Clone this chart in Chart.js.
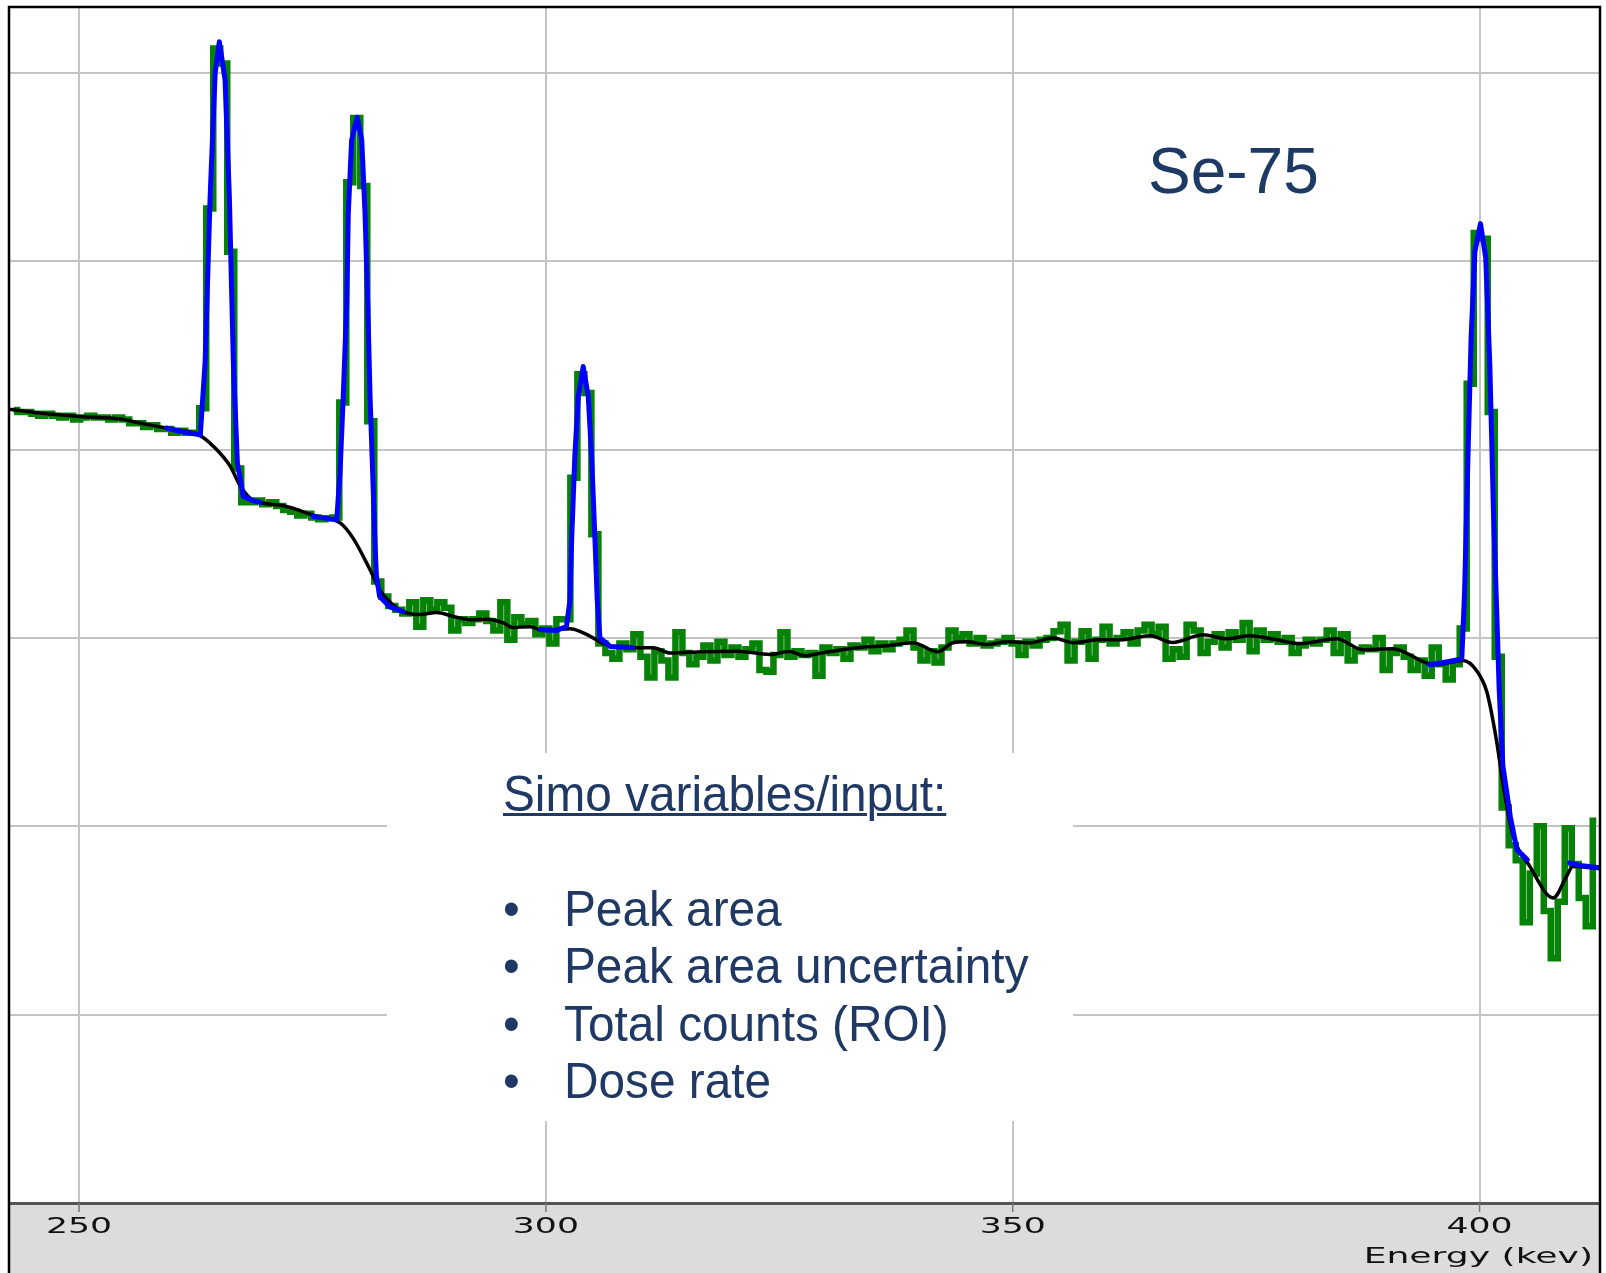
<!DOCTYPE html>
<html>
<head>
<meta charset="utf-8">
<script src="https://cdn.jsdelivr.net/npm/chart.js@4.4.1/dist/chart.umd.min.js"></script>
<style>
  body { margin: 0; background: #fff; }
  #wrap { position: relative; width: 1606px; height: 1273px; background: #fff; }
  #c { position: absolute; left: 0; top: 0; }
  .box { position: absolute; left: 387px; top: 753px; width: 686px; height: 368px; background: #fff; }
  .t {
    position: absolute; white-space: nowrap; color: #1f3864;
    font-family: "Liberation Sans", Arial, sans-serif;
    font-size: 50px; line-height: 57.4px;
    transform-origin: 0 0; transform: scaleX(0.955);
  }
  .u { text-decoration: underline; text-decoration-thickness: 3px; }
</style>
</head>
<body>
<div id="wrap">
  <canvas id="c" width="1606" height="1273"></canvas>
  <div class="box"></div>
  <div class="t" style="left:1148px;top:139px;font-size:64px;line-height:64px;transform:none;color:#1c3a63">Se-75</div>
  <div class="t u" style="left:503px;top:766px">Simo variables/input:</div>
  <div class="t" style="left:503px;top:881px">•</div>
  <div class="t" style="left:564px;top:881px">Peak area</div>
  <div class="t" style="left:503px;top:938px">•</div>
  <div class="t" style="left:564px;top:938px">Peak area uncertainty</div>
  <div class="t" style="left:503px;top:996px">•</div>
  <div class="t" style="left:564px;top:996px">Total counts (ROI)</div>
  <div class="t" style="left:503px;top:1053px">•</div>
  <div class="t" style="left:564px;top:1053px">Dose rate</div>
</div>
<script>
// energy axis (keV) and grid
const xTicks = [250, 300, 350, 400];
const yGrid = [1, 2, 3, 4, 5, 6];

// measured spectrum: channel calibration + counts per channel (arbitrary units)
const channelStart = 243.0;
const channelWidth = 0.75;
const measured = [
  4.21, 4.20, 4.20, 4.19, 4.18, 4.19, 4.18, 4.17, 4.18, 4.16,
  4.17, 4.18, 4.17, 4.17, 4.16, 4.17, 4.16, 4.14, 4.14, 4.12,
  4.13, 4.11, 4.11, 4.09, 4.10, 4.09, 4.09, 4.22, 5.28, 6.13,
  6.05, 5.05, 3.90, 3.72, 3.72, 3.73, 3.71, 3.72, 3.70, 3.68,
  3.67, 3.65, 3.66, 3.64, 3.63, 3.635, 3.64, 4.25, 5.42, 5.76,
  5.40, 4.15, 3.30, 3.22, 3.17, 3.15, 3.13, 3.19, 3.06, 3.20,
  3.15, 3.19, 3.16, 3.04, 3.10, 3.08, 3.10, 3.13, 3.09, 3.04,
  3.19, 2.99, 3.11, 3.07, 3.09, 3.02, 3.05, 2.97, 3.10, 3.10,
  3.85, 4.40, 4.30, 3.55, 2.97, 2.92, 2.89, 2.97, 2.94, 3.02,
  2.90, 2.79, 2.93, 2.88, 2.79, 3.03, 2.92, 2.86, 2.90, 2.96,
  2.88, 2.98, 2.91, 2.95, 2.90, 2.94, 2.97, 2.83, 2.82, 2.91,
  3.03, 2.90, 2.93, 2.91, 2.92, 2.80, 2.95, 2.92, 2.94, 2.89,
  2.96, 2.95, 2.99, 2.93, 2.97, 2.94, 2.97, 2.99, 3.04, 2.95,
  2.88, 2.93, 2.87, 2.95, 3.04, 3.00, 3.02, 2.97, 3.00, 2.96,
  2.97, 2.98, 3.00, 2.97, 2.91, 2.98, 2.96, 2.99, 3.00, 3.035,
  3.07, 2.88, 2.98, 3.035, 2.89, 2.99, 3.06, 2.97, 3.00, 3.03,
  2.97, 3.04, 3.07, 3.02, 3.06, 2.89, 2.94, 2.90, 3.07, 3.04,
  2.92, 2.98, 3.02, 2.95, 3.03, 2.99, 3.08, 2.93, 3.04, 2.99,
  3.02, 2.98, 3.00, 2.92, 2.96, 2.99, 2.97, 2.99, 3.04, 2.92,
  3.02, 2.88, 2.93, 2.95, 2.94, 3.00, 2.83, 2.92, 2.95, 2.90,
  2.83, 2.88, 2.80, 2.95, 2.86, 2.78, 2.86, 3.05, 4.35, 5.15,
  5.12, 4.20, 2.90, 2.10, 1.90, 1.82, 1.49, 1.75, 2.00, 1.55,
  1.30, 1.60, 1.99, 1.80, 1.62, 1.47, 2.03
];

// continuum (black)
const baseEnergy = [
  242.5, 245.8, 250.1, 254.4, 256.5, 259.4, 263.0, 264.4, 266.2, 267.3,
  268.6, 271.9, 275.5, 278.0, 279.35, 281.06, 282.34, 283.73, 284.7, 286.5,
  288.3, 290.1, 291.9, 293.7, 295.4, 296.5, 298.3, 299.7, 302.6, 303.65,
  305.44, 306.15, 309.0, 311.5, 313.3, 316.8, 320.5, 324.0, 326.1, 327.7,
  329.7, 333.3, 336.8, 339.3, 342.0, 343.6, 345.1, 347.2, 349.4, 351.9,
  354.3, 356.5, 359.3, 361.5, 364.7, 367.1, 370.4, 372.9, 375.4, 378.3,
  380.7, 384.7, 387.5, 390.7, 394.3, 395.4, 398.2, 399.7, 400.8, 401.8,
  402.5, 403.5, 405.4, 407.9, 409.3, 410.0, 412.9
];
const baseCounts = [
  4.215, 4.194, 4.176, 4.162, 4.141, 4.114, 4.073, 4.017, 3.911, 3.804,
  3.733, 3.702, 3.645, 3.61, 3.53, 3.373, 3.245, 3.171, 3.14, 3.124,
  3.135, 3.114, 3.097, 3.10, 3.081, 3.055, 3.06, 3.04, 3.049, 3.035,
  2.99, 2.969, 2.948, 2.948, 2.92, 2.927, 2.93, 2.912, 2.928, 2.905,
  2.922, 2.948, 2.96, 2.975, 2.927, 2.975, 2.98, 2.965, 2.98, 2.975,
  3.0, 2.975, 2.99, 2.99, 3.012, 2.976, 3.017, 2.996, 3.012, 2.99,
  2.97, 2.996, 2.938, 2.943, 2.868, 2.858, 2.88, 2.825, 2.71, 2.46,
  2.23, 1.967, 1.786, 1.62, 1.733, 1.786, 1.775
];

// peak fit in the ROIs (blue), null = gap between ROIs
const fitEnergy = [
  259.4, 261.0, 262.99, 263.5, 264.04, 264.58, 265.03, 265.64, 266.1, 266.53, 266.96, 267.6, 268.6, 269.4, 269.5,
  275.1, 276.5, 277.6, 277.95, 278.3, 278.67, 278.84, 279.2, 279.8, 280.28, 280.63, 280.92, 281.17, 281.45, 281.7, 281.85, 282.2, 283.3, 284.7, 284.8,
  299.4, 301.15, 302.2, 302.58, 302.76, 303.1, 303.47, 304.0, 304.54, 304.9, 305.26, 305.5, 305.79, 306.9, 309.3, 309.4,
  394.65, 396.0, 397.85, 398.1, 398.4, 398.75, 399.1, 399.5, 400.1, 400.66, 401.1, 401.5, 401.8, 402.1, 402.5, 403.3, 404.0, 405.1, 405.2,
  409.65, 411.0, 412.9
];
const fitCounts = [
  4.114, 4.095, 4.079, 4.46, 5.34, 6.0, 6.166, 5.963, 5.342, 4.461, 3.93, 3.751, 3.73, 3.72, null,
  3.645, 3.635, 3.627, 3.875, 4.282, 4.778, 5.255, 5.644, 5.765, 5.644, 5.255, 4.778, 4.282, 3.875, 3.5, 3.33, 3.22, 3.165, 3.14, null,
  3.045, 3.04, 3.06, 3.2, 3.52, 3.963, 4.282, 4.441, 4.282, 3.963, 3.521, 3.203, 3.0, 2.955, 2.95, null,
  2.858, 2.868, 2.886, 2.89, 3.25, 3.95, 4.6, 5.05, 5.2, 5.02, 4.45, 3.65, 3.2, 2.73, 2.32, 2.05, 1.876, 1.823, null,
  1.806, 1.79, 1.78
];

const pts = (xs, ys) => xs.map((x, i) => ({ x: x, y: ys[i] }));
const measuredPts = measured.map((y, i) => ({ x: channelStart + i * channelWidth, y: y }));

const axisBand = {
  id: 'axisBand',
  beforeDraw(chart) {
    const { ctx, chartArea: a } = chart;
    ctx.save();
    ctx.fillStyle = '#dcdcdc';
    ctx.fillRect(a.left, a.bottom, a.right - a.left, chart.height - a.bottom);
    ctx.restore();
  },
  afterDraw(chart) {
    const { ctx, chartArea: a, scales: { x } } = chart;
    ctx.save();
    // frame
    ctx.strokeStyle = '#000';
    ctx.lineWidth = 2.5;
    ctx.beginPath();
    ctx.moveTo(a.left, chart.height);
    ctx.lineTo(a.left, a.top);
    ctx.lineTo(a.right, a.top);
    ctx.lineTo(a.right, chart.height);
    ctx.stroke();
    // tick marks + labels
    ctx.strokeStyle = '#777';
    ctx.lineWidth = 1.5;
    ctx.fillStyle = '#111';
    ctx.font = '21px "DejaVu Sans"';
    ctx.textAlign = 'center';
    ctx.textBaseline = 'middle';
    xTicks.forEach(v => {
      const px = x.getPixelForValue(v);
      ctx.beginPath();
      ctx.moveTo(px, a.bottom);
      ctx.lineTo(px, a.bottom + 9);
      ctx.stroke();
      ctx.save();
      ctx.translate(px, a.bottom + 25);
      ctx.scale(1.65, 1);
      ctx.fillText(String(v), 0, 0);
      ctx.restore();
    });
    ctx.textAlign = 'right';
    ctx.translate(a.right - 7, a.bottom + 55);
    ctx.scale(1.72, 1);
    ctx.fillText('Energy (kev)', 0, 0);
    ctx.restore();
  }
};

new Chart(document.getElementById('c'), {
  type: 'line',
  data: {
    datasets: [
      {
        label: 'Fit', data: pts(fitEnergy, fitCounts), order: 0,
        borderColor: '#0000ff', borderWidth: 5, pointRadius: 0,
        tension: 0, borderJoinStyle: 'round', borderCapStyle: 'round', spanGaps: false
      },
      {
        label: 'Continuum', data: pts(baseEnergy, baseCounts), order: 1,
        borderColor: '#000000', borderWidth: 3.5, pointRadius: 0,
        cubicInterpolationMode: 'monotone'
      },
      {
        label: 'Spectrum', data: measuredPts, order: 2,
        borderColor: '#068206', borderWidth: 6.5, pointRadius: 0,
        stepped: 'middle'
      }
    ]
  },
  options: {
    responsive: false,
    animation: false,
    layout: { padding: { left: 9, top: 7, right: 6, bottom: 0 } },
    plugins: { legend: { display: false }, tooltip: { enabled: false } },
    scales: {
      x: {
        type: 'linear', min: 242.5, max: 412.9,
        afterBuildTicks: s => { s.ticks = xTicks.map(v => ({ value: v })); },
        afterFit: s => { s.height = 70; },
        ticks: { display: false },
        grid: { color: '#c4c4c4', lineWidth: 2, drawTicks: false },
        border: { display: true, color: '#555', width: 3 }
      },
      y: {
        type: 'linear', min: 0, max: 6.35,
        afterBuildTicks: s => { s.ticks = yGrid.map(v => ({ value: v })); },
        afterFit: s => { s.width = 0; },
        ticks: { display: false },
        grid: { color: '#c4c4c4', lineWidth: 2, drawTicks: false },
        border: { display: false }
      }
    }
  },
  plugins: [axisBand]
});
</script>
</body>
</html>
